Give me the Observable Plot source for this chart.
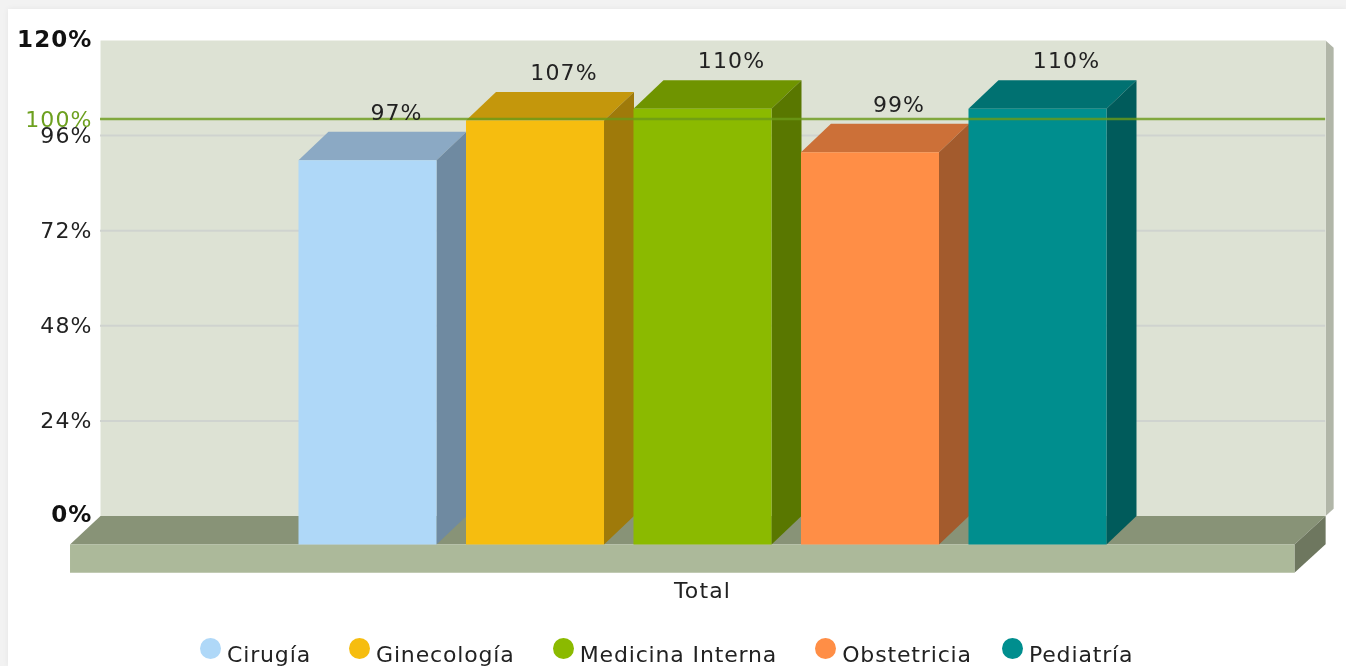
<!DOCTYPE html>
<html>
<head>
<meta charset="utf-8">
<script src="https://cdn.jsdelivr.net/npm/d3@7"></script>
<script src="https://cdn.jsdelivr.net/npm/@observablehq/plot@0.6"></script>
<style>
  html, body { margin: 0; padding: 0; width: 1346px; height: 666px; overflow: hidden; background: #f2f2f2; }
  #panel { position: absolute; left: 8px; top: 9px; width: 1338px; height: 657px; background: #fff; box-shadow: 0 0 6px rgba(0,0,0,.06); }
  #chart { position: absolute; left: 0; top: 0; filter: blur(.45px); }
  #chart svg { overflow: visible; }
  #legend { position: absolute; left: 200px; top: 638px; display: flex; align-items: flex-start;
            font: 22px "DejaVu Sans", Verdana, sans-serif; letter-spacing: 0.85px; color: #222; white-space: nowrap; filter: blur(.45px); }
  .item { display: flex; align-items: flex-start; margin-right: 38px; }
  .item:nth-child(4) { margin-right: 30px; }
  .sw { width: 21px; height: 21px; border-radius: 50%; margin-right: 6px; }
  .lb { line-height: 34px; height: 34px; }
</style>
</head>
<body>
<div id="panel"></div>
<div id="chart"></div>
<div id="legend"></div>
<script>
const categories = ["Cirugía", "Ginecología", "Medicina Interna", "Obstetricia", "Pediatría"];
const values = [97, 107, 110, 99, 110];
const valueLabels = ["97%", "107%", "110%", "99%", "110%"];
const frontColors = ["#afd8f8", "#f6bd0f", "#8bba00", "#ff8e46", "#008e8e"];
const topColors = ["#8ba9c4", "#c4970c", "#6f9400", "#cc7038", "#007171"];
const sideColors = ["#6f8aa1", "#9f7a0a", "#597700", "#a35b2d", "#005b5b"];
const gridTicks = [24, 48, 72, 96];
const boldTicks = [0, 120];
const targetTick = [100];
const groupLabel = "Total";

// 3-D geometry, expressed in data units (x: bar slots, y: percent)
const halfBar = 0.412, depthX = 0.179, depthY = 7.2;
const wallL = -1.594, wallR = 5.72, strip = 0.048, floorDrop = 7.1;

const poly = (pts, fill, extra = {}) =>
  Plot.line(pts.map(([x, y]) => ({x, y})), {x: "x", y: "y", fill, stroke: "none", curve: "linear-closed", ...extra});

const rows = categories.map((c, i) => ({c, i, v: values[i], label: valueLabels[i]}));
const barMarks = rows.flatMap(({i, v}) => {
  const x0 = i - halfBar, x1 = i + halfBar, top = v - depthY, base = -depthY;
  return [
    poly([[x0, top], [x1, top], [x1 + depthX, v], [x0 + depthX, v]], topColors[i]),
    poly([[x1, base], [x1 + depthX, 0], [x1 + depthX, v], [x1, top]], sideColors[i]),
    poly([[x0, base], [x1, base], [x1, top], [x0, top]], frontColors[i])
  ];
});

const frontL = wallL - depthX - 0.003, frontR = wallR - 0.186;
const axisBase = {anchor: "left", tickSize: 0, tickPadding: 8, label: null, fontSize: 22, tickFormat: d => d + "%"};

const chart = Plot.plot({
  width: 1346, height: 625,
  marginLeft: 100, marginRight: 21, marginTop: 40, marginBottom: 50,
  style: {background: "transparent", fontFamily: "'DejaVu Sans', Verdana, sans-serif", color: "#222", letterSpacing: "1.1px"},
  x: {type: "linear", domain: [0, 4], range: [367, 1037], axis: null},
  y: {type: "linear", domain: [0, 120], range: [515.5, 40], axis: null},
  marks: [
    poly([[wallR, 120], [wallR + strip, 118.2], [wallR + strip, 1.8], [wallR, 0]], "#b1b6a8"),
    poly([[wallL, 120], [wallR, 120], [wallR, 0], [wallL, 0]], "#dde2d4"),
    Plot.ruleY(gridTicks, {x1: wallL, x2: wallR, stroke: "#cfd3cf", strokeWidth: 2}),
    poly([[frontL, -depthY], [frontR, -depthY], [wallR, 0], [wallL, 0]], "#889377"),
    poly([[frontR, -depthY], [wallR, 0], [wallR, -floorDrop], [frontR, -depthY - floorDrop]], "#6e775f"),
    poly([[frontL, -depthY], [frontR, -depthY], [frontR, -depthY - floorDrop], [frontL, -depthY - floorDrop]], "#acb99a"),
    ...barMarks,
    Plot.ruleY(targetTick, {x1: wallL, x2: wallR, stroke: "#6a9a18", strokeWidth: 2.4, strokeOpacity: 0.8, dy: -0.7}),
    Plot.axisY({...axisBase, ticks: gridTicks, fill: "#222"}),
    Plot.axisY({...axisBase, ticks: targetTick, fill: "#6da01f"}),
    Plot.axisY({...axisBase, ticks: boldTicks, fill: "#111", fontWeight: "bold", dy: -1, fontSize: 23}),
    Plot.text(rows, {x: d => d.i + depthX - 0.006, y: "v", text: "label", dy: -19, fontSize: 22, fill: "#222"}),
    Plot.text([groupLabel], {x: [2], y: [-19], text: d => d, fontSize: 22, fill: "#222"})
  ]
});
document.getElementById("chart").append(chart);

const legend = d3.select("#legend");
const items = legend.selectAll(".item").data(categories).join("div").attr("class", "item");
items.append("div").attr("class", "sw").style("background", (d, i) => frontColors[i]);
items.append("div").attr("class", "lb").text(d => d);
</script>
</body>
</html>
